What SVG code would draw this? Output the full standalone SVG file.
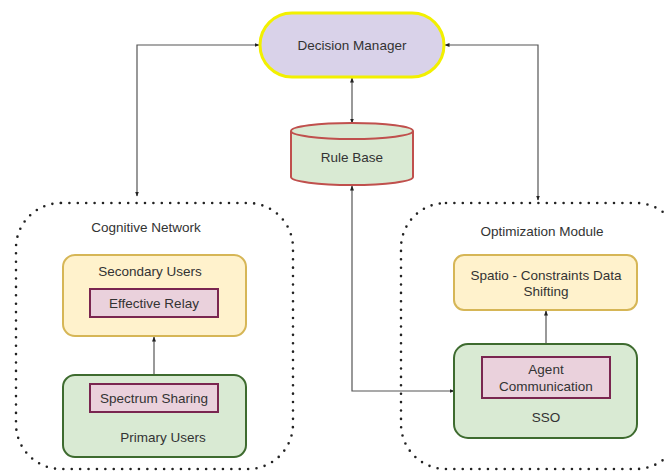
<svg xmlns="http://www.w3.org/2000/svg" width="665" height="472" viewBox="0 0 665 472">
  <defs>
    <marker id="arrow" viewBox="0 0 10 10" refX="9" refY="5" markerWidth="5" markerHeight="5" orient="auto-start-reverse" markerUnits="userSpaceOnUse">
      <path d="M0,1 L10,5 L0,9 z" fill="#222"/>
    </marker>
    <style>
      text { font-family: "Liberation Sans", Arial, sans-serif; font-size: 13.5px; fill: #333; text-anchor: middle; }
      .conn { fill: none; stroke: #555; stroke-width: 1.2; }
      .group { fill: none; stroke: #222; stroke-width: 2.6; stroke-linecap: round; stroke-dasharray: 0 8.4; }
      .yellow { fill: #fff2cc; stroke: #d6b656; stroke-width: 2; }
      .green { fill: #d9ead3; stroke: #3e6b2f; stroke-width: 2; }
      .pink { fill: #ead1dc; stroke: #7a2650; stroke-width: 2; }
    </style>
  </defs>

  <rect width="665" height="472" fill="#ffffff"/>

  <!-- connectors -->
  <g id="connectors">
    <path class="conn" d="M137,196 V45 H259" marker-start="url(#arrow)" marker-end="url(#arrow)"/>
    <path class="conn" d="M538,200 V45 H445" marker-start="url(#arrow)" marker-end="url(#arrow)"/>
    <path class="conn" d="M352,123 V78" marker-start="url(#arrow)" marker-end="url(#arrow)"/>
    <path class="conn" d="M352,186 V391 H454" marker-start="url(#arrow)" marker-end="url(#arrow)"/>
    <path class="conn" d="M154,384 V337" marker-end="url(#arrow)"/>
    <path class="conn" d="M546,344 V311" marker-end="url(#arrow)"/>
  </g>

  <!-- decision manager -->
  <g id="decision-manager">
    <rect x="260" y="13" width="184" height="64" rx="32" fill="#d9d2e9" stroke="#f2f000" stroke-width="3"/>
    <text x="352" y="50">Decision Manager</text>
  </g>

  <!-- rule base -->
  <g id="rule-base">
    <path d="M291,131 V177 A61,8 0 0 0 413,177 V131" fill="#d9ead3" stroke="#c0504d" stroke-width="2"/>
    <ellipse cx="352" cy="131" rx="61" ry="8" fill="#d9ead3" stroke="#c0504d" stroke-width="2"/>
    <text x="352" y="162">Rule Base</text>
  </g>

  <!-- cognitive network -->
  <g id="cognitive-network">
    <rect class="group" x="16" y="203" width="277" height="266" rx="45"/>
    <text x="146" y="232">Cognitive Network</text>
  </g>

  <g id="secondary-users">
    <rect class="yellow" x="63" y="255" width="183" height="81" rx="12"/>
    <text x="150" y="276">Secondary Users</text>
  </g>

  <g id="effective-relay">
    <rect class="pink" x="90" y="289" width="128" height="28"/>
    <text x="154" y="308">Effective Relay</text>
  </g>

  <g id="primary-users">
    <rect class="green" x="63" y="375" width="183" height="82" rx="12"/>
    <text x="163" y="442">Primary Users</text>
  </g>

  <g id="spectrum-sharing">
    <rect class="pink" x="90" y="384" width="128" height="28"/>
    <text x="154" y="403">Spectrum Sharing</text>
  </g>

  <!-- optimization module -->
  <g id="optimization-module">
    <rect class="group" x="401" y="203" width="280" height="266" rx="45"/>
    <text x="542" y="236">Optimization Module</text>
  </g>

  <g id="spatio-constraints">
    <rect class="yellow" x="454" y="255" width="183" height="55" rx="10"/>
    <text x="546" y="280">Spatio - Constraints Data</text>
    <text x="546" y="296">Shifting</text>
  </g>

  <g id="sso">
    <rect class="green" x="454" y="344" width="183" height="94" rx="14"/>
    <text x="546" y="422">SSO</text>
  </g>

  <g id="agent-communication">
    <rect class="pink" x="482" y="357" width="128" height="41"/>
    <text x="546" y="374">Agent</text>
    <text x="546" y="391">Communication</text>
  </g>
</svg>
